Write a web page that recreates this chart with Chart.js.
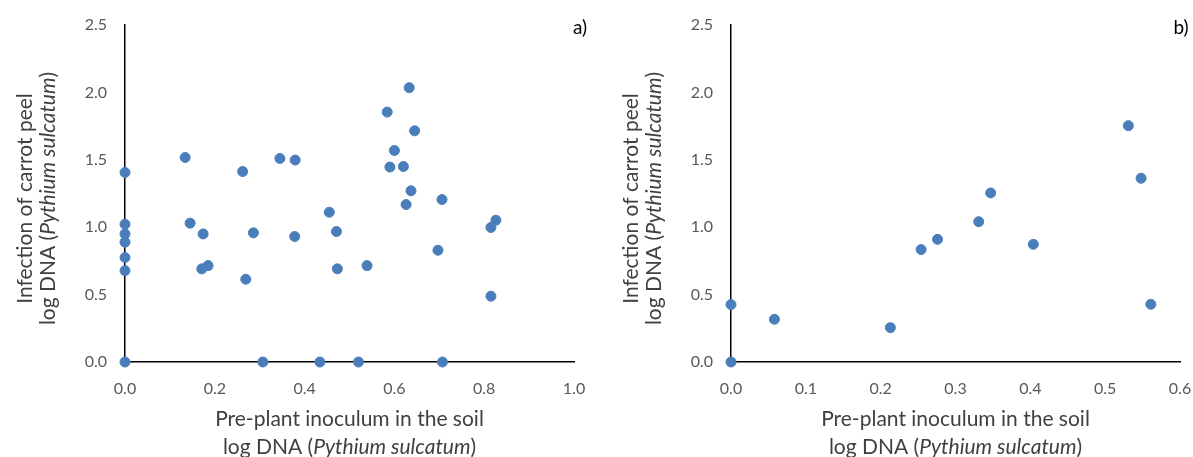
<!DOCTYPE html>
<html>
<head>
<meta charset="utf-8">
<title>Pythium sulcatum inoculum vs carrot peel infection</title>
<script src="https://cdn.jsdelivr.net/npm/chart.js@4.4.1/dist/chart.umd.min.js"></script>
<style>
    body { margin: 0; background: #fff; }
    #wrap { position: relative; width: 1193px; height: 457px; overflow: hidden; }
    #wrap canvas { position: absolute; top: 0; }
</style>
</head>
<body>
<div id="wrap">
    <canvas id="chartA" width="597" height="457" style="left:0"></canvas>
    <canvas id="chartB" width="596" height="457" style="left:597px"></canvas>
</div>
<script>
// Panel a) - pre-plant soil inoculum vs peel infection
const soilDnaA = [0, 0, 0, 0, 0, 0, 0,
    0.134, 0.145, 0.174, 0.171, 0.185, 0.262, 0.286, 0.269, 0.307,
    0.345, 0.379, 0.378, 0.434, 0.455, 0.471, 0.473, 0.520, 0.539,
    0.584, 0.590, 0.600, 0.620, 0.633, 0.645, 0.637, 0.626,
    0.706, 0.707, 0.697, 0.815, 0.826, 0.815];
const peelDnaA = [1.406, 1.022, 0.950, 0.889, 0.775, 0.678, 0,
    1.517, 1.030, 0.950, 0.691, 0.715, 1.413, 0.958, 0.614, 0,
    1.510, 1.498, 0.931, 0, 1.111, 0.968, 0.691, 0, 0.715,
    1.854, 1.446, 1.569, 1.450, 2.035, 1.715, 1.270, 1.168,
    1.205, 0, 0.829, 0.998, 1.052, 0.488];

// Panel b)
const soilDnaB = [0, 0, 0.058, 0.213, 0.254, 0.276, 0.331, 0.347, 0.404, 0.531, 0.548, 0.561];
const peelDnaB = [0.426, 0, 0.317, 0.255, 0.834, 0.910, 1.041, 1.254, 0.873, 1.753, 1.363, 0.428];

const yTicks = [0, 0.5, 1.0, 1.5, 2.0, 2.5];
const xTicksA = [0, 0.2, 0.4, 0.6, 0.8, 1.0];
const xTicksB = [0, 0.1, 0.2, 0.3, 0.4, 0.5, 0.6];

// axis titles, split in segments so the species name can be italic
const xTitle = [
    [{ t: 'Pre-plant inoculum in the soil' }],
    [{ t: 'log DNA (' }, { t: 'Pythium sulcatum', i: true }, { t: ')' }]
];
const yTitle = [
    [{ t: 'Infection of carrot peel' }],
    [{ t: 'log DNA (' }, { t: 'Pythium sulcatum', i: true }, { t: ')' }]
];

const FONT = 'Lato, "Open Sans", sans-serif';
const TITLE_SIZE = 21;
const DOT = '#4A7EBB';

// draw one line of mixed normal / italic text centred on x = 0
function drawRichLine(ctx, segs, size) {
    let total = 0;
    segs.forEach(s => {
        ctx.font = (s.i ? 'italic ' : '') + size + 'px ' + FONT;
        s.w = ctx.measureText(s.t).width;
        total += s.w;
    });
    let x = -total / 2;
    segs.forEach(s => {
        ctx.font = (s.i ? 'italic ' : '') + size + 'px ' + FONT;
        ctx.fillText(s.t, x, 0);
        x += s.w;
    });
}

const axisTitles = {
    id: 'axisTitles',
    afterDraw(chart, args, opts) {
        const ctx = chart.ctx;
        const a = chart.chartArea;
        const cx = (a.left + a.right) / 2;
        const cy = (a.top + a.bottom) / 2 + 5;
        ctx.save();
        ctx.fillStyle = '#404040';
        ctx.textAlign = 'left';

        // x title, two lines under the tick labels (last one runs off the bottom)
        ctx.textBaseline = 'alphabetic';
        xTitle.forEach((line, i) => {
            ctx.save();
            ctx.translate(cx, a.bottom + 64 + i * 28);
            drawRichLine(ctx, line, TITLE_SIZE);
            ctx.restore();
        });

        // y title, rotated
        ctx.textBaseline = 'middle';
        yTitle.forEach((line, i) => {
            ctx.save();
            ctx.translate(a.left - 100 + i * 23, cy);
            ctx.rotate(-Math.PI / 2);
            drawRichLine(ctx, line, TITLE_SIZE);
            ctx.restore();
        });

        // panel letter
        ctx.fillStyle = '#000';
        ctx.font = '19px ' + FONT;
        ctx.textAlign = 'center';
        ctx.fillText(opts.letter, a.right + opts.letterDx, a.top + 3);
        ctx.restore();
    }
};

function makePanel(id, xs, ys, xTicks, stepX, areaLeft, areaRight, letter, letterDx) {
    const canvas = document.getElementById(id);
    const points = xs.map((x, i) => ({ x: x, y: ys[i] }));

    new Chart(canvas.getContext('2d'), {
        type: 'scatter',
        data: {
            datasets: [{
                data: points,
                backgroundColor: DOT,
                borderColor: DOT,
                pointRadius: 5,
                pointHoverRadius: 5,
                clip: false
            }]
        },
        options: {
            responsive: false,
            animation: false,
            layout: {
                padding: { left: 0, top: 25, right: canvas.width - areaRight, bottom: 0 }
            },
            scales: {
                x: {
                    type: 'linear',
                    min: xTicks[0],
                    max: xTicks[xTicks.length - 1],
                    grid: { display: false, drawTicks: false },
                    border: { display: true, color: '#000', width: 1.5 },
                    ticks: {
                        stepSize: stepX,
                        padding: 17,
                        color: '#595959',
                        font: { family: FONT, size: 16 },
                        maxRotation: 0,
                        callback: v => v.toFixed(1)
                    },
                    afterFit(scale) {
                        scale.height = 95;
                        // keep edge labels from shrinking the plot area
                        scale.paddingLeft = 0;
                        scale.paddingRight = 0;
                    }
                },
                y: {
                    type: 'linear',
                    min: yTicks[0],
                    max: yTicks[yTicks.length - 1],
                    grid: { display: false, drawTicks: false },
                    border: { display: true, color: '#000', width: 1.5 },
                    ticks: {
                        stepSize: 0.5,
                        padding: 18,
                        color: '#595959',
                        font: { family: FONT, size: 16 },
                        callback: v => v.toFixed(1)
                    },
                    afterFit(scale) {
                        scale.width = areaLeft;
                        scale.paddingTop = 0;
                        scale.paddingBottom = 0;
                    }
                }
            },
            plugins: {
                legend: { display: false },
                tooltip: { enabled: false },
                axisTitles: { letter: letter, letterDx: letterDx }
            }
        },
        plugins: [axisTitles]
    });
}

makePanel('chartA', soilDnaA, peelDnaA, xTicksA, 0.2, 125, 574, 'a)', 6);
makePanel('chartB', soilDnaB, peelDnaB, xTicksB, 0.1, 134, 583, 'b)', 1);
</script>
</body>
</html>
